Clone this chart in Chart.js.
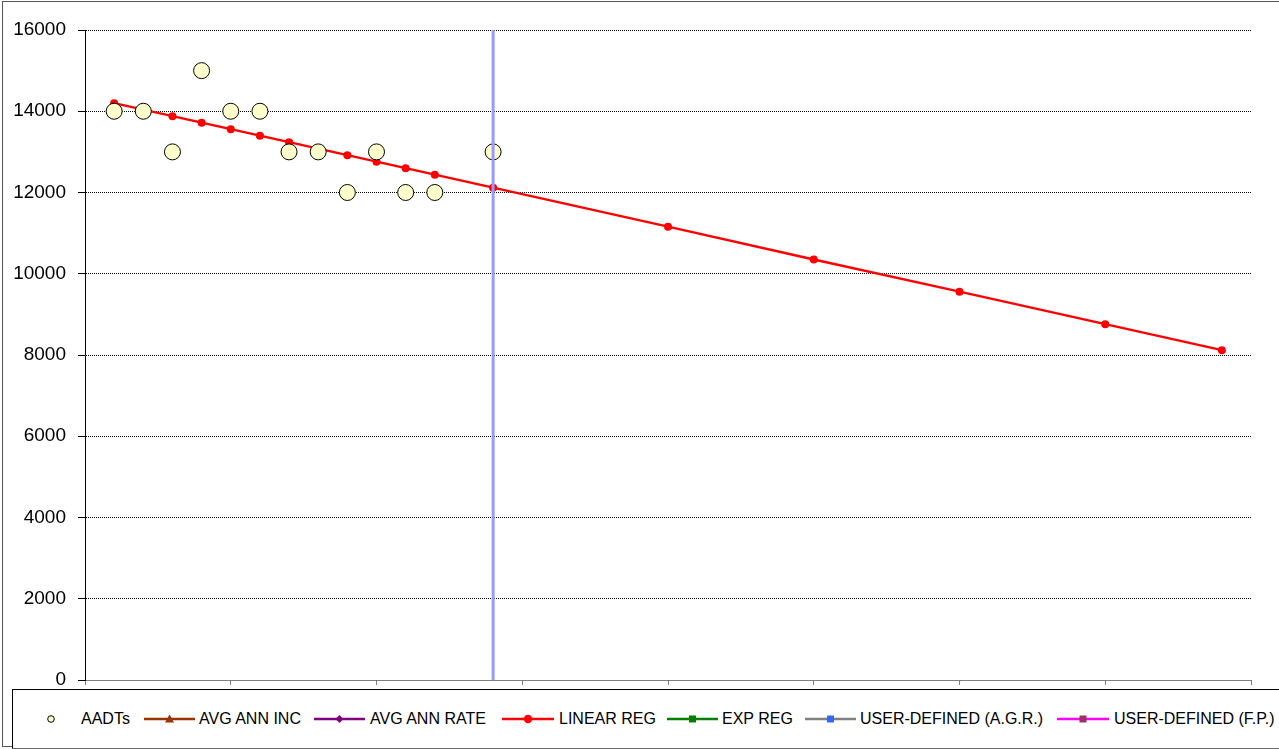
<!DOCTYPE html>
<html>
<head>
<meta charset="utf-8">
<script src="https://cdn.jsdelivr.net/npm/chart.js@4"></script>
<style>
  html, body { margin: 0; padding: 0; background: #fff; overflow: hidden; width: 1279px; height: 749px; }
  #frame { position: absolute; left: 2px; top: 1px; width: 1300px; height: 746px; border: 1px solid #555; box-sizing: border-box; }
  #wrap { position: absolute; left: 0; top: 0; width: 1279px; height: 749px; }
  #legend { position: absolute; left: 12px; top: 689px; width: 1300px; height: 60px; box-sizing: border-box;
            border-top: 1px solid #000; border-left: 1px solid #000; border-bottom: 1px solid #666; background: #fff;
            font-family: 'Liberation Sans', Arial, sans-serif; font-size: 16px; color: #000; }
  .sym { position: absolute; top: 23px; display: block; }
  .txt { position: absolute; top: 20px; line-height: 18px; white-space: nowrap; }
</style>
</head>
<body>
<div id="frame"></div>
<div id="wrap"><canvas id="c" width="1279" height="749"></canvas></div>
<div id="legend"></div>
<script>
// ---- data ----
const aadtYears = [1, 2, 3, 4, 5, 6, 7, 8, 9, 10, 11, 12, 14];
const aadtValues = [14000, 14000, 13000, 15000, 14000, 14000, 13000, 13000, 12000, 13000, 12000, 12000, 13000];

const regYears = [1, 2, 3, 4, 5, 6, 7, 8, 9, 10, 11, 12, 14, 20, 25, 30, 35, 39];
const linearRegValues = [14200, 14040, 13880, 13720, 13560, 13400, 13240, 13080, 12920, 12760, 12600, 12440, 12120, 11160, 10350, 9560, 8760, 8120];

const currentYearLine = [14, 14];
const currentYearSpan = [0, 16000];

const seriesNames = ['AADTs', 'AVG ANN INC', 'AVG ANN RATE', 'LINEAR REG', 'EXP REG', 'USER-DEFINED (A.G.R.)', 'USER-DEFINED (F.P.)'];
const lineColors = [null, '#993300', '#800080', '#FF0000', '#008000', '#808080', '#FF00FF'];
const markerColors = ['#FFFFCC', '#993300', '#800080', '#FF0000', '#008000', '#3366FF', '#993366'];
const markerShapes = ['circle', 'triangle', 'rectRot', 'circle', 'rect', 'rect', 'rect'];

const yMin = 0, yMax = 16000, yStep = 2000;
const xMin = 0, xMax = 40, xStep = 5;

const zip = (xs, ys) => xs.map((x, i) => ({ x: x, y: ys[i] }));

const datasets = [
  {
    label: 'current', data: zip(currentYearLine, currentYearSpan), showLine: true,
    borderColor: '#9999FF', borderWidth: 3, pointRadius: 0, order: 0
  },
  {
    label: seriesNames[0], data: zip(aadtYears, aadtValues), showLine: false,
    pointRadius: 8, pointBackgroundColor: markerColors[0], pointBorderColor: '#000', pointBorderWidth: 1, order: 1
  },
  { label: seriesNames[1], data: [], borderColor: lineColors[1], order: 3 },
  { label: seriesNames[2], data: [], borderColor: lineColors[2], order: 3 },
  {
    label: seriesNames[3], data: zip(regYears, linearRegValues), showLine: true,
    borderColor: lineColors[3], borderWidth: 2.5, pointRadius: 4, pointBackgroundColor: markerColors[3],
    pointBorderColor: markerColors[3], pointBorderWidth: 0, order: 2
  },
  { label: seriesNames[4], data: [], borderColor: lineColors[4], order: 3 },
  { label: seriesNames[5], data: [], borderColor: lineColors[5], order: 3 },
  { label: seriesNames[6], data: [], borderColor: lineColors[6], order: 3 }
];

new Chart(document.getElementById('c'), {
  type: 'scatter',
  data: { datasets: datasets },
  options: {
    responsive: false,
    animation: false,
    layout: { padding: { top: 30, right: 28, bottom: 64, left: 0 } },
    plugins: { legend: { display: false }, tooltip: { enabled: false } },
    elements: { line: { tension: 0 } },
    scales: {
      x: {
        type: 'linear', min: xMin, max: xMax,
        ticks: { display: false, stepSize: xStep },
        grid: { drawOnChartArea: false, drawTicks: true, tickLength: 5, color: '#808080', tickColor: '#808080' },
        border: { color: '#808080', width: 1 },
        afterFit: s => { s.height = 5; }
      },
      y: {
        min: yMin, max: yMax,
        ticks: {
          stepSize: yStep, padding: 12, color: '#000',
          font: { family: "'Liberation Sans', Arial, sans-serif", size: 19 },
          callback: v => String(v)
        },
        grid: { color: '#000', lineWidth: 1, tickLength: 7, tickColor: '#000', tickBorderDash: [] },
        border: { color: '#000', width: 1, dash: [1, 1] },
        afterFit: s => { s.width = 85; }
      }
    }
  }
});

// ---- HTML legend built from the series arrays (positions relative to legend box at x=12) ----
const legendSymLeft = [34, 131, 301, 489, 654, 792, 1044];
const legendSymWidth = [8, 51, 51, 52, 51, 51, 52];
const legendTextLeft = [68, 186, 357, 546, 709, 847, 1101];
const legend = document.getElementById('legend');
function markerSvg(i) {
  const w = legendSymWidth[i], h = 12, cx = w / 2, cy = 6;
  let s = `<svg class="sym" style="left:${legendSymLeft[i]}px" width="${w}" height="${h}" viewBox="0 0 ${w} ${h}">`;
  if (lineColors[i]) s += `<line x1="0" y1="${cy}" x2="${w}" y2="${cy}" stroke="${lineColors[i]}" stroke-width="2.5"/>`;
  const c = markerColors[i];
  switch (markerShapes[i]) {
    case 'circle':
      if (i === 0) s += `<circle cx="${cx}" cy="${cy}" r="3.3" fill="${c}" stroke="#000" stroke-width="1"/>`;
      else s += `<circle cx="${cx}" cy="${cy}" r="4.2" fill="${c}"/>`;
      break;
    case 'triangle':
      s += `<polygon points="${cx},${cy - 4.5} ${cx + 4.5},${cy + 3.5} ${cx - 4.5},${cy + 3.5}" fill="${c}"/>`; break;
    case 'rectRot':
      s += `<polygon points="${cx},${cy - 4} ${cx + 4},${cy} ${cx},${cy + 4} ${cx - 4},${cy}" fill="${c}"/>`; break;
    case 'rect':
      s += `<rect x="${cx - 3.5}" y="${cy - 3.5}" width="7" height="7" fill="${c}"/>`; break;
  }
  return s + '</svg>';
}
let html = '';
seriesNames.forEach((name, i) => {
  html += markerSvg(i);
  html += `<span class="txt" style="left:${legendTextLeft[i]}px">${name}</span>`;
});
legend.innerHTML = html;
</script>
</body>
</html>
